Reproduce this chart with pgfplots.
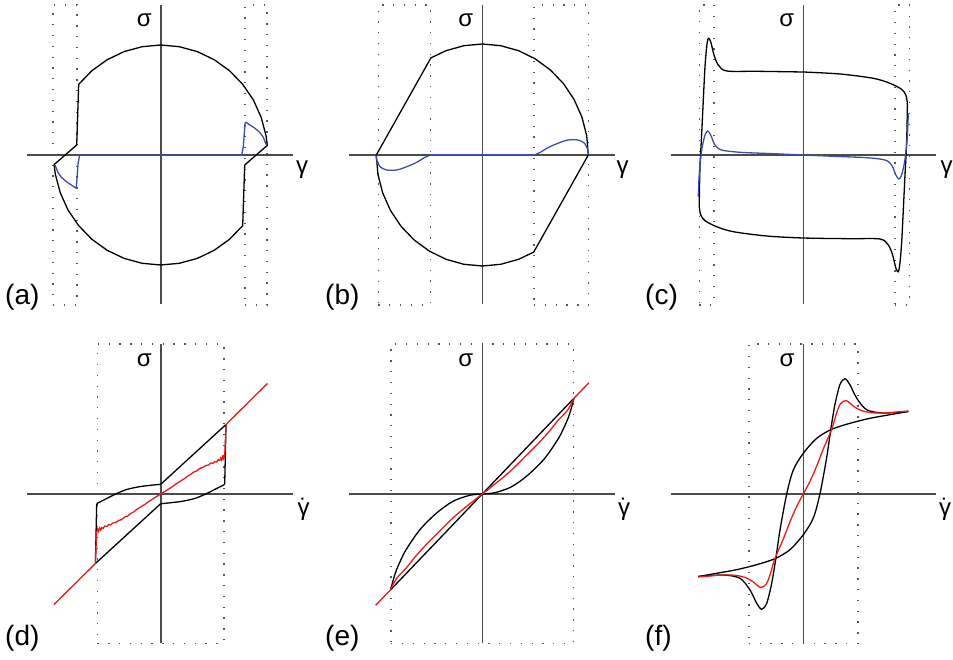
\documentclass[border=0pt]{standalone}
\usepackage{fontspec}
\setmainfont{Liberation Sans}
\usepackage{pgfplots}
\pgfplotsset{compat=1.18}
\definecolor{myblue}{RGB}{60,75,175}
\definecolor{myred}{RGB}{235,25,25}
\definecolor{axgray}{RGB}{75,75,75}
\definecolor{dotgray}{RGB}{85,85,85}
\pgfplotsset{
 panel/.style={hide axis, scale only axis, clip=false, enlargelimits=false, anchor=north west},
 dotbox/.style={no markers, color=dotgray, line width=1.4pt, dash pattern=on 1.3pt off 9.5pt},
 axln/.style={no markers, color=axgray, line width=1.6pt},
 blk/.style={no markers, black, line width=1.3pt},
 blu/.style={no markers, myblue, line width=1.3pt},
 rd/.style={no markers, myred, line width=1.3pt},
}
\newcommand{\symf}{\fontsize{24}{28}\selectfont}
\newcommand{\labf}{\fontsize{28}{32}\selectfont}
\newcommand{\gdot}{{\symf\accent"02D9 γ}}
\begin{document}
\begin{tikzpicture}
\useasboundingbox (0pt,0pt) rectangle (953pt,-660pt);
% ---------------- (a)
\begin{axis}[panel, at={(0pt,0pt)}, width=320pt, height=330pt,
  xmin=-160.7, xmax=159.3, ymin=-175, ymax=155]
\addplot[dotbox] coordinates {(-107.7,-150)(-83.7,-150)(-83.7,150)(-107.7,150)(-107.7,-150)};
\addplot[dotbox] coordinates {(84.3,-150)(106.3,-150)(106.3,150)(84.3,150)(84.3,-150)};
\addplot[axln] coordinates {(-133.5,0)(132.5,0)};
\addplot[axln] coordinates {(0,-149)(0,150)};
\addplot[blk] coordinates {
(-106.6,-9.6)(-105.4,-19.1)(-100.5,-37.6)(-92.7,-55)(-82,-70.7)(-68.8,-84.3)(-53.5,-95.3)(-36.6,-103.4)(-18.6,-108.3)(0,-110)
(18.6,-108.3)(36.6,-103.4)(53.5,-95.3)(68.8,-84.3)(82,-70.7)
(84,-10)(106.6,9.6)
(105.4,19.1)(100.5,37.6)(92.7,55)(82,70.7)(68.8,84.3)(53.5,95.3)(36.6,103.4)(18.6,108.3)(0,110)
(-18.6,108.3)(-36.6,103.4)(-53.5,95.3)(-68.8,84.3)(-82,70.7)
(-84,10)(-106.6,-9.6)};
\addplot[blu] coordinates {
(-106,-10)(-105,-11.7)(-102.6,-17.7)(-99.3,-22.3)(-94.3,-26.7)(-89.3,-30)(-85.3,-32.7)(-84.3,-31.7)(-83.6,-21.7)(-82.6,-8.3)(-81,0)
(81,0)(82.6,8.3)(83.6,21.7)(84.3,31.7)(85.3,32.7)(89.3,30)(94.3,26.7)(99.3,22.3)(102.6,17.7)(105,11.7)(106,10)};
\node[inner sep=0pt] at (axis cs:-16.5,134.3) {\symf σ};
\node[inner sep=0pt] at (axis cs:141.3,-14.2) {\symf γ};
\node[inner sep=0pt, anchor=base west] at (axis cs:-155.7,-150) {\labf (a)};
\end{axis}
% ---------------- (b)
\begin{axis}[panel, at={(320pt,0pt)}, width=320pt, height=330pt,
  xmin=-162.3, xmax=157.7, ymin=-175, ymax=155]
\addplot[dotbox] coordinates {(-104,-150)(-51.6,-150)(-51.6,150)(-104,150)(-104,-150)};
\addplot[dotbox] coordinates {(51.7,-150)(106,-150)(106,150)(51.7,150)(51.7,-150)};
\addplot[axln] coordinates {(-133.3,0)(132.7,0)};
\addplot[axln] coordinates {(0,-149)(0,150)};
\addplot[blk] coordinates {
(-106,0)(-51.4,97.1)
(-36.3,104.3)(-18.4,109.3)(0,111)(18.4,109.3)(36.3,104.3)(53,96.1)(68.1,85)(81.2,71.4)(91.8,55.5)(99.6,38)(104.4,19.3)(106,0)
(51.4,-97.1)
(36.3,-104.3)(18.4,-109.3)(0,-111)(-18.4,-109.3)(-36.3,-104.3)(-53,-96.1)(-68.1,-85)(-81.2,-71.4)(-91.8,-55.5)(-99.6,-38)(-104.4,-19.3)(-106,0)};
\addplot[blu, smooth] coordinates {
(-106.3,0)(-105.6,-5)(-102.3,-11.7)(-95.6,-15)(-85.6,-15)(-75.6,-11.7)(-65.6,-7.3)(-57.3,-2.3)(-51.6,0)};
\addplot[blu] coordinates {(-51.6,0)(51.6,0)};
\addplot[blu, smooth] coordinates {
(51.6,0)(57.3,2.3)(65.6,7.3)(75.6,11.7)(85.6,15)(95.6,15)(102.3,11.7)(105.6,5)(106.3,0)};
\node[inner sep=0pt] at (axis cs:-16.5,134.3) {\symf σ};
\node[inner sep=0pt] at (axis cs:140.2,-14.2) {\symf γ};
\node[inner sep=0pt, anchor=base west] at (axis cs:-157.3,-150) {\labf (b)};
\end{axis}
% ---------------- (c)
\begin{axis}[panel, at={(640pt,0pt)}, width=313pt, height=330pt,
  xmin=-163.3, xmax=149.7, ymin=-175, ymax=155]
\addplot[dotbox] coordinates {(-104,-150)(-89.3,-150)(-89.3,150)(-104,150)(-104,-150)};
\addplot[dotbox] coordinates {(91.7,-150)(106,-150)(106,150)(91.7,150)(91.7,-150)};
\addplot[axln] coordinates {(-132.6,0)(132.7,0)};
\addplot[axln] coordinates {(0,-149)(0,150)};
\addplot[blk, smooth] coordinates {
(0,83)(36.7,81)(70,76.7)(86.7,71.7)(98.3,65.7)(102.5,60)(104,52)(104,45)(103.3,11.7)(101.6,-21.7)(100,-55)(98.3,-88.3)(96.6,-108.3)(95,-116.7)(92.6,-113.3)(89.3,-100)(85,-90)(76.6,-84)(46.6,-83.7)
(0,-83)(-36.7,-81)(-70,-76.7)(-86.7,-71.7)(-98.3,-65.7)(-102.5,-60)(-104,-52)(-104,-45)(-103.3,-11.7)(-101.6,21.7)(-100,55)(-98.3,88.3)(-96.6,108.3)(-95,116.7)(-92.6,113.3)(-89.3,100)(-85,90)(-76.6,84)(-46.6,83.7)(0,83)};
\addplot[blu, smooth] coordinates {
(-105,-41.7)(-104,-18.3)(-101.6,5)(-98.3,20)(-95.6,24)(-92.6,20)(-88.3,10)(-81.6,5)(-63.3,2.7)(-30,1.3)(0,0)
(30,-1.3)(63.3,-2.7)(81.6,-5)(88.3,-10)(92.6,-20)(95.6,-24)(98.3,-20)(101.6,-5)(104,18.3)(105,41.7)};
\node[inner sep=0pt] at (axis cs:-16.6,134.3) {\symf σ};
\node[inner sep=0pt] at (axis cs:143.4,-14.2) {\symf γ};
\node[inner sep=0pt, anchor=base west] at (axis cs:-158.3,-150) {\labf (c)};
\end{axis}
% ---------------- (d)
\begin{axis}[panel, at={(0pt,-330pt)}, width=320pt, height=330pt,
  xmin=-160.7, xmax=159.3, ymin=-166, ymax=164]
\addplot[dotbox] coordinates {(-63.3,-149.3)(63.3,-149.3)(63.3,150)(-63.3,150)(-63.3,-149.3)};
\addplot[axln] coordinates {(-133.5,0)(132.5,0)};
\addplot[axln] coordinates {(0,-149.3)(0,150)};
\addplot[blk] coordinates {(-65.3,-69.5)(-64,-9.6)};
\addplot[blk, smooth] coordinates {(-64,-9.6)(-54,-4.5)(-45,0)(-34,4.5)(-20.7,7.4)(-7.4,9)(0,9.7)};
\addplot[blk] coordinates {(0,9.7)(65.3,69.5)(64,9.6)};
\addplot[blk, smooth] coordinates {(64,9.6)(54,4.5)(45,0)(34,-4.5)(20.7,-7.4)(7.4,-9)(0,-9.7)};
\addplot[blk] coordinates {(0,-9.7)(-65.3,-69.5)};
\addplot[rd] coordinates {
(-106.7,-110.5)(-65.3,-69.5)(-64.6,-52)(-64,-38)
(-63,-35)(-62,-37.5)(-61,-34)(-60,-36)(-59,-33.5)(-57.5,-34.5)(-56,-32)(-54,-32.5)(-52,-30.5)(-50,-31)(-48,-29)(-45,-28.5)(-42,-26.5)(-39,-25.5)(-36,-23)(-33,-22)(-30,-19.5)(-27,-18)(-24,-15.5)(-20,-13)(-16,-10.5)(-12,-7.5)(-8,-5)(-4,-2.5)(0,0)
(4,2.5)(8,5)(12,7.5)(16,10.5)(20,13)(24,15.5)(27,18)(30,19.5)(33,22)(36,23)(39,25.5)(42,26.5)(45,28.5)(48,29)(50,31)(52,30.5)(54,32.5)(56,32)(57.5,34.5)(59,33.5)(60,36)(61,34)(62,37.5)(63,35)
(64,38)(64.6,52)(65.3,69.5)(106.7,110.5)};
\node[inner sep=0pt] at (axis cs:-16.5,133.7) {\symf σ};
\node[inner sep=0pt] at (axis cs:142.8,-15) {\gdot};
\node[inner sep=0pt, anchor=base west] at (axis cs:-155.7,-151) {\labf (d)};
\end{axis}
% ---------------- (e)
\begin{axis}[panel, at={(320pt,-330pt)}, width=320pt, height=330pt,
  xmin=-162.3, xmax=157.7, ymin=-166, ymax=164]
\addplot[dotbox] coordinates {(-91.2,-149.3)(91.2,-149.3)(91.2,150)(-91.2,150)(-91.2,-149.3)};
\addplot[axln] coordinates {(-133,0)(132.7,0)};
\addplot[axln] coordinates {(0,-149.3)(0,150)};
\addplot[blk] coordinates {(-91.7,-95.8)(91.7,95.8)};
\addplot[blk, smooth] coordinates {
(-91.7,-95.8)(-88.8,-85)(-85.8,-75.8)(-81,-65)(-75.8,-55)(-62.5,-35.8)(-45.8,-19.1)(-29.2,-7.2)(-12.5,-1.3)(0,0)
(12.5,1.3)(29.2,7.2)(45.8,19.1)(62.5,35.8)(75.8,55)(81,65)(85.8,75.8)(88.8,85)(91.7,95.8)};
\addplot[rd] coordinates {(-106.7,-111.3)(-91.7,-95.8)};
\addplot[rd, smooth] coordinates {
(-91.7,-95.8)(-85.8,-84.5)(-75.8,-73.7)(-66,-61.5)(-55,-49.5)(-42,-36.5)(-29.2,-23.8)(-14.6,-11.5)(0,0)
(14.6,11.5)(29.2,23.8)(42,36.5)(55,49.5)(66,61.5)(75.8,73.7)(85.8,84.5)(91.7,95.8)};
\addplot[rd] coordinates {(91.7,95.8)(106.7,111.3)};
\node[inner sep=0pt] at (axis cs:-16.5,133.7) {\symf σ};
\node[inner sep=0pt] at (axis cs:141.9,-15) {\gdot};
\node[inner sep=0pt, anchor=base west] at (axis cs:-157.3,-151) {\labf (e)};
\end{axis}
% ---------------- (f)
\begin{axis}[panel, at={(640pt,-330pt)}, width=313pt, height=330pt,
  xmin=-163.3, xmax=149.7, ymin=-166, ymax=164]
\addplot[dotbox] coordinates {(-54.5,-149.3)(54.5,-149.3)(54.5,150)(-54.5,150)(-54.5,-149.3)};
\addplot[axln] coordinates {(-132.6,0)(132.7,0)};
\addplot[axln] coordinates {(0,-149.3)(0,150)};
\addplot[blk, smooth] coordinates {
(-105,-82.5)(-80,-81)(-63.3,-84.3)(-53.3,-96)(-46.6,-109.3)(-41.6,-115.3)(-36.6,-109.3)(-31.6,-89.3)(-27.6,-65.3)(-23.3,-36)(-16.6,0)(-10,24)(0,40.7)(13.4,55.7)(28.4,64.7)(46.7,70.7)(66.7,75.7)(85,79)(105,82.5)};
\addplot[blk, smooth] coordinates {
(105,82.5)(80,81)(63.3,84.3)(53.3,96)(46.6,109.3)(41.6,115.3)(36.6,109.3)(31.6,89.3)(27.6,65.3)(23.3,36)(16.6,0)(10,-24)(0,-40.7)(-13.4,-55.7)(-28.4,-64.7)(-46.7,-70.7)(-66.7,-75.7)(-85,-79)(-105,-82.5)};
\addplot[rd, smooth] coordinates {
(-105,-83)(-80,-81)(-66.7,-81.5)(-56.7,-84)(-50,-88)(-42.7,-93.5)(-37,-90)(-33,-80)(-28.4,-64.7)(-20,-45)(-13.3,-27.7)(-6.7,-12.7)(0,0)
(6.7,12.7)(13.3,27.7)(20,45)(28.4,64.7)(33,80)(37,90)(42.7,93.5)(50,88)(56.7,84)(66.7,81.5)(80,81)(105,83)};
\node[inner sep=0pt] at (axis cs:-16.3,133.7) {\symf σ};
\node[inner sep=0pt] at (axis cs:141.7,-15) {\gdot};
\node[inner sep=0pt, anchor=base west] at (axis cs:-158.3,-151) {\labf (f)};
\end{axis}
\end{tikzpicture}
\end{document}
